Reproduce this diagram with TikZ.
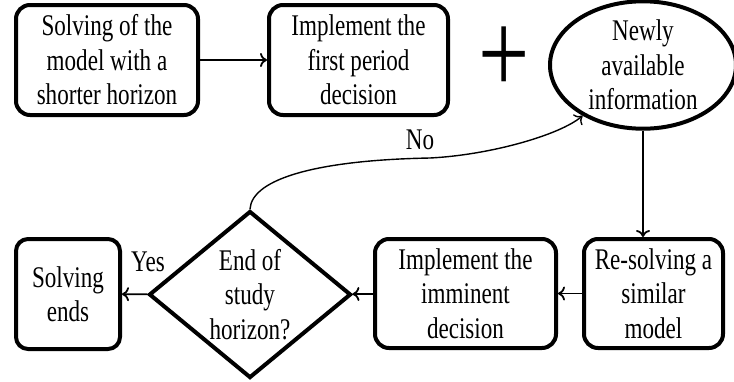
\documentclass[tikz,border=0pt]{standalone}
\usepackage{fontspec}
\setmainfont{Liberation Serif}[FakeStretch=0.77]
\usetikzlibrary{shapes.geometric,arrows.meta}
\begin{document}
\begin{tikzpicture}[x=1pt,y=-1pt,
  txt/.style={font=\fontsize{30}{34.5}\selectfont},
  box/.style={draw,line width=4pt,rounded corners=14pt,align=center,inner sep=0pt,txt},
  link/.style={line width=1.8pt,-{To[length=7pt,width=14pt]}},
  lbl/.style={txt,inner sep=0pt}]
\useasboundingbox (0,0) rectangle (734,381);

% upper row
\node[box,minimum width=182pt,minimum height=110pt] (solve) at (107,60)
  {Solving of the\\model with a\\shorter horizon};
\node[box,minimum width=179pt,minimum height=110pt] (first) at (358.5,60)
  {Implement the\\first period\\decision};
\node[inner sep=0pt,font=\fontsize{118}{118}\selectfont] (plus) at (504,60) {+};
\node[draw,ellipse,line width=4pt,inner sep=0pt,align=center,txt,
  minimum width=186pt,minimum height=120pt] (info) at (643,65)
  {Newly\\available\\information};

% lower row
\node[box,minimum width=139pt,minimum height=109pt] (resolve) at (653.5,293.5)
  {Re-solving a\\similar\\model};
\node[box,minimum width=181pt,minimum height=109pt] (imminent) at (465.5,293.5)
  {Implement the\\imminent\\decision};
\node[draw,diamond,line width=4pt,inner sep=0pt,aspect=1.2,
  minimum width=202pt,minimum height=167pt,
  label={[txt,align=center,inner sep=0pt]center:{End of\\study\\horizon?}}] (check) at (250,294.5) {};
\node[box,minimum width=104pt,minimum height=110pt,rounded corners=12pt] (ends) at (68,294)
  {Solving\\ends};

% connectors
\draw[link] (solve) -- (first);
\draw[link] (info.south) -- (info.south |- resolve.north);
\draw[link] (resolve) -- (imminent);
\draw[link] (imminent) -- (check);
\draw[link] (check) -- (ends);
\draw[link,line width=1.4pt] (check.north)
  .. controls (252,178) and (320,160) .. (430,158)
  .. controls (490,155) and (560,135) .. (info.220);

% decision labels
\node[lbl] (yes) at (148,262) {Yes};
\node[lbl] (no) at (420,140) {No};
\end{tikzpicture}
\end{document}
